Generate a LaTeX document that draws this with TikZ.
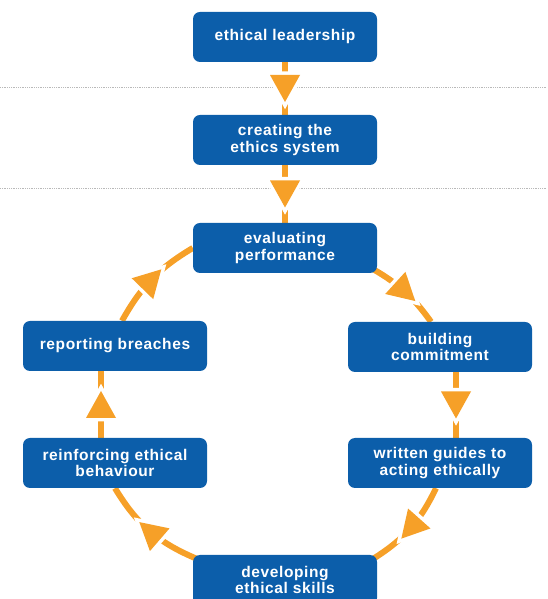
\documentclass[tikz,border=0pt]{standalone}
\usepackage{fontspec}
\newfontfamily\stagefont{Liberation Sans}[LetterSpace=4]
\usetikzlibrary{decorations.markings,backgrounds}

\definecolor{stageblue}{RGB}{12,94,170}
\definecolor{floworange}{RGB}{246,160,40}

\tikzset{
  stage/.style={rectangle, rounded corners=7pt, fill=stageblue, text=white,
    minimum width=184pt, minimum height=50pt, inner sep=2pt, align=center,
    font=\stagefont\bfseries\fontsize{15.5}{16.5}\selectfont},
  flow/.style={draw=floworange, line width=6pt, postaction={decorate},
    decoration={markings, mark=at position 0.5 with {
      \draw[white, line width=7pt, line join=miter]
        (13.5pt,0) -- (-13.5pt,15pt) -- (-13.5pt,-15pt) -- cycle;
      \fill[floworange] (13.5pt,0) -- (-13.5pt,15pt) -- (-13.5pt,-15pt) -- cycle;}}},
  divider/.style={gray!55, line width=0.8pt, densely dotted}
}

\begin{document}
\begin{tikzpicture}[x=1pt, y=1pt]
    \useasboundingbox (0,0) rectangle (547,599);
    \clip (0,0) rectangle (547,599);
    %Stages
    \node[stage] (lead) at (285,562) {ethical leadership};
    \node[stage] (system) at (285,459) {creating the\\ethics system};
    \node[stage] (evaluate) at (285,351) {evaluating\\performance};
    \node[stage] (report) at (115,253) {reporting breaches};
    \node[stage] (commit) at (440,252) {building\\commitment};
    \node[stage] (reinforce) at (115,136) {reinforcing ethical\\behaviour};
    \node[stage] (guides) at (440,136) {written guides to\\acting ethically};
    \node[stage] (skills) at (285,19) {developing\\ethical skills};
    \begin{pgfonlayer}{background}
      %Dividers
      \foreach \y in {512, 411}
        \draw[divider] (0,\y) -- (547,\y);
      %Top chain
      \draw[flow] (lead) -- (system);
      \draw[flow] (system) -- (evaluate);
      %Cycle
      \draw[flow] ([shift={(-4pt,4pt)}]evaluate.south east) to[bend left=12] ([xshift=-9pt]commit.north);
      \draw[flow] ([xshift=16pt]commit.south) -- ([xshift=16pt]guides.north);
      \draw[flow] ([xshift=-4pt]guides.south) to[bend left=16] ([shift={(-4pt,-4pt)}]skills.north east);
      \draw[flow] ([shift={(4pt,-4pt)}]skills.north west) to[bend left=18] (reinforce.south);
      \draw[flow] ([xshift=-14pt]reinforce.north) -- ([xshift=-14pt]report.south);
      \draw[flow] ([xshift=7pt]report.north) to[bend left=15] (evaluate.west);
    \end{pgfonlayer}
\end{tikzpicture}
\end{document}
